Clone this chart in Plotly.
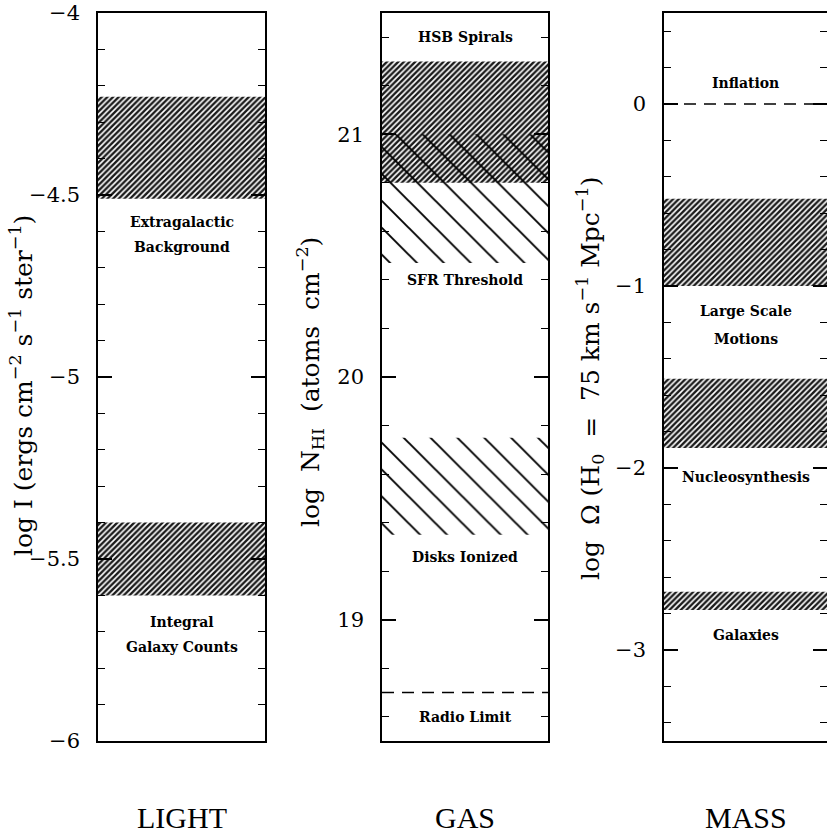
import plotly.graph_objects as go

# ---------------- data ----------------
# LIGHT panel
light_range = [-6, -4]
light_ticks = [-6, -5.5, -5, -4.5, -4]
light_ticktext = ["−6", "−5.5", "−5", "−4.5", "−4"]
light_dense_lo = [-4.51, -5.60]
light_dense_hi = [-4.23, -5.40]
light_labels = ["Extragalactic", "Background", "Integral", "Galaxy Counts"]
light_label_y = [-4.574, -4.643, -5.673, -5.742]

# GAS panel
gas_range = [18.5, 21.5]
gas_ticks = [19, 20, 21]
gas_ticktext = ["19", "20", "21"]
gas_dense_lo = [20.80]
gas_dense_hi = [21.30]
gas_sparse_lo = [20.47, 19.35]
gas_sparse_hi = [21.00, 19.75]
gas_dashed = [18.70]
gas_labels = ["HSB Spirals", "SFR Threshold", "Disks Ionized", "Radio Limit"]
gas_label_y = [21.40, 20.40, 19.26, 18.60]

# MASS panel
mass_range = [-3.5, 0.5]
mass_ticks = [-3, -2, -1, 0]
mass_ticktext = ["−3", "−2", "−1", "0"]
mass_dense_lo = [-1.00, -1.89, -2.78]
mass_dense_hi = [-0.52, -1.51, -2.68]
mass_dashed = [0.0]
mass_labels = ["Inflation", "Large Scale", "Motions", "Nucleosynthesis", "Galaxies"]
mass_label_y = [0.115, -1.14, -1.29, -2.05, -2.92]

panel_names = ["LIGHT", "GAS", "MASS"]
NB = "\u00a0"
axis_titles = [
    "log I (ergs cm<sup>−2</sup> s<sup>−1</sup> ster<sup>−1</sup>)",
    f"log{NB} N<sub>HI</sub>{NB} (atoms{NB} cm<sup>−2</sup>)",
    f"log{NB} Ω (H<sub>0</sub>{NB} ={NB} 75 km s<sup>−1</sup> Mpc<sup>−1</sup>)",
]

# ---------------- layout geometry ----------------
W, H = 827, 833
px_x = [(98, 265), (382, 548), (664, 828)]
top_px, bot_px = 13, 741
title_px = [(22, 386), (310, 382), (590, 379)]
name_y_px = 817

fig = go.Figure()

def band(lo, hi, ax, shape, size, solidity, fg, bg):
    fig.add_trace(go.Scatter(
        x=[0, 1, 1, 0, 0], y=[lo, lo, hi, hi, lo],
        xaxis=ax[0], yaxis=ax[1], mode="lines", fill="toself",
        line=dict(width=0, color="rgba(0,0,0,0)"),
        fillcolor=bg,
        fillpattern=dict(shape=shape, size=size, solidity=solidity,
                         fgcolor=fg, bgcolor=bg, fgopacity=1),
        hoverinfo="skip", showlegend=False))

def dashed(v, ax):
    fig.add_trace(go.Scatter(
        x=[0, 1], y=[v, v], xaxis=ax[0], yaxis=ax[1], mode="lines",
        line=dict(color="black", width=1.5, dash="12px,8px"),
        hoverinfo="skip", showlegend=False))

# dense hatch: dark ground with fine light diagonals; sparse: thin black diagonals
DENSE = ("/", 4, 0.4, "white", "#1a1a1a")
SPARSE = ("\\", 19, 0.1, "black", "rgba(0,0,0,0)")

ax1, ax2, ax3 = ("x", "y"), ("x2", "y2"), ("x3", "y3")
for lo, hi in zip(light_dense_lo, light_dense_hi):
    band(lo, hi, ax1, *DENSE)
for lo, hi in zip(gas_dense_lo, gas_dense_hi):
    band(lo, hi, ax2, *DENSE)
for lo, hi in zip(gas_sparse_lo, gas_sparse_hi):
    band(lo, hi, ax2, *SPARSE)
for v in gas_dashed:
    dashed(v, ax2)
for lo, hi in zip(mass_dense_lo, mass_dense_hi):
    band(lo, hi, ax3, *DENSE)
for v in mass_dashed:
    dashed(v, ax3)

ydom = [1 - bot_px / H, 1 - top_px / H]
tickfont = dict(family="DejaVu Serif", size=21, color="black")

def xaxis_cfg(i):
    return dict(domain=[px_x[i][0] / W, min(1.0, px_x[i][1] / W)], range=[0, 1],
                showticklabels=False, ticks="", showgrid=False, zeroline=False,
                showline=True, linecolor="black", linewidth=1.5, mirror=True,
                automargin=False,
                anchor="y" if i == 0 else f"y{i+1}", fixedrange=True)

def yaxis_cfg(i, rng, tv, tt, minor_dt):
    return dict(domain=ydom, range=rng, tickmode="array", tickvals=tv, ticktext=tt,
                ticks="inside", ticklen=14, tickwidth=1.5, tickcolor="black",
                minor=dict(dtick=minor_dt, tick0=0, ticks="inside", ticklen=7,
                           tickwidth=1.2, tickcolor="black"),
                showgrid=False, zeroline=False, showline=True, linecolor="black",
                linewidth=1.5, mirror="ticks", tickfont=tickfont,
                ticklabelstandoff=12, automargin=False,
                anchor="x" if i == 0 else f"x{i+1}", fixedrange=True)

fig.update_layout(
    width=W, height=H, margin=dict(l=0, r=0, t=0, b=0, pad=0, autoexpand=False),
    paper_bgcolor="white", plot_bgcolor="white",
    xaxis=xaxis_cfg(0), xaxis2=xaxis_cfg(1), xaxis3=xaxis_cfg(2),
    yaxis=yaxis_cfg(0, light_range, light_ticks, light_ticktext, 0.1),
    yaxis2=yaxis_cfg(1, gas_range, gas_ticks, gas_ticktext, 0.2),
    yaxis3=yaxis_cfg(2, mass_range, mass_ticks, mass_ticktext, 0.2),
)

labfont = dict(family="DejaVu Serif", size=14, color="black", weight="bold")
ann = []
for (labels, ys, ax) in [(light_labels, light_label_y, ax1),
                         (gas_labels, gas_label_y, ax2),
                         (mass_labels, mass_label_y, ax3)]:
    for t, yv in zip(labels, ys):
        ann.append(dict(text=t, x=0.5, y=yv, xref=ax[0], yref=ax[1],
                        showarrow=False, font=labfont))

for i, t in enumerate(axis_titles):
    ann.append(dict(text=t, x=title_px[i][0] / W, y=1 - title_px[i][1] / H,
                    xref="paper", yref="paper", textangle=-90, showarrow=False,
                    xanchor="center", yanchor="middle",
                    font=dict(family="DejaVu Serif", size=25, color="black")))

for i, n in enumerate(panel_names):
    cx = (px_x[i][0] + min(W, px_x[i][1])) / 2 / W
    ann.append(dict(text=n, x=cx, y=1 - name_y_px / H, xref="paper", yref="paper",
                    showarrow=False, xanchor="center", yanchor="middle",
                    font=dict(family="Liberation Serif", size=30, color="black")))

fig.update_layout(annotations=ann)
fig.write_html("out.html")
